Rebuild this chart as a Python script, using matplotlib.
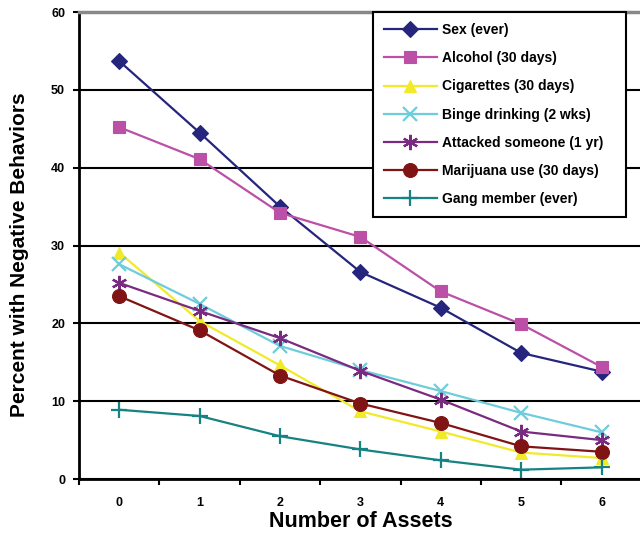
import matplotlib
matplotlib.use("Agg")
from matplotlib import pyplot as plt

plt.rcParams['font.family'] = ['Liberation Sans', 'DejaVu Sans']
plt.rcParams['font.weight'] = 'bold'

assets = [0, 1, 2, 3, 4, 5, 6]

sex = [53.7, 44.5, 35.0, 26.6, 22.0, 16.2, 13.8]
alcohol = [45.2, 41.1, 34.2, 31.1, 24.1, 19.9, 14.4]
cigarettes = [29.1, 20.3, 14.6, 8.7, 6.1, 3.4, 2.7]
binge = [27.6, 22.5, 17.1, 14.0, 11.3, 8.5, 6.0]
attacked = [25.2, 21.6, 18.1, 13.9, 10.2, 6.1, 5.0]
marijuana = [23.5, 19.1, 13.3, 9.7, 7.2, 4.2, 3.5]
gang = [8.9, 8.1, 5.5, 3.8, 2.4, 1.2, 1.5]

labels = ["Sex (ever)", "Alcohol (30 days)", "Cigarettes (30 days)",
          "Binge drinking (2 wks)", "Attacked someone (1 yr)",
          "Marijuana use (30 days)", "Gang member (ever)"]
y_ticks = [0, 10, 20, 30, 40, 50, 60]

series = [sex, alcohol, cigarettes, binge, attacked, marijuana, gang]
colors = ['#25257d', '#bb50a6', '#f0ea2a', '#6ecddb', '#7a2a80', '#801414', '#168282']
markers = ['D', 's', '^', 'x', (6, 2, 0), 'o', '+']
sizes = [8, 9, 9, 10, 11, 10, 12]

fig = plt.figure(figsize=(6.4, 5.36), dpi=100)
ax = fig.add_axes([0.1234, 0.1063, 0.8794, 0.8713])

for ys, c, m, s, lab in zip(series, colors, markers, sizes, labels):
    ax.plot(assets, ys, color=c, marker=m, markersize=s, linewidth=1.6,
            markeredgewidth=1.6 if m in ('x', '+') or isinstance(m, tuple) else 0.8,
            markeredgecolor=c, label=lab, clip_on=False, zorder=3)

ax.set_xlim(-0.5, 6.5)
ax.set_ylim(0, 60)
ax.set_yticks(y_ticks)
ax.set_xticks(assets)
ax.set_xticks([x + 0.5 for x in [-1] + assets], minor=True)
ax.tick_params(axis='x', which='major', length=0, pad=13, labelsize=9)
ax.tick_params(axis='x', which='minor', length=4, width=1.5, direction='out')
ax.tick_params(axis='y', length=4, width=1.5, labelsize=9, pad=6)
ax.yaxis.grid(True, color='black', linewidth=1.5)
ax.set_axisbelow(True)

ax.spines['right'].set_visible(False)
ax.spines['top'].set_color('#888888')
ax.spines['top'].set_linewidth(2.5)
ax.spines['left'].set_linewidth(2)
ax.spines['bottom'].set_linewidth(2)

ax.set_xlabel("Number of Assets", fontsize=15.5, fontweight='bold', va='center')
ax.xaxis.set_label_coords(0.501, -0.092)
ax.set_ylabel("Percent with Negative Behaviors", fontsize=15, fontweight='bold', va='center')
ax.yaxis.set_label_coords(-0.106, 0.48)

leg = ax.legend(loc='upper left', bbox_to_anchor=(0.522, 0.561, 0.45, 0.439),
                mode='expand', fancybox=False, framealpha=1, edgecolor='black',
                prop={'size': 10, 'weight': 'bold'}, labelspacing=1.02,
                handlelength=3.8, handletextpad=0.4, borderpad=0.8,
                borderaxespad=0)
leg.get_frame().set_linewidth(1.5)
leg.set_zorder(5)

fig.savefig("out.png", dpi=100)
